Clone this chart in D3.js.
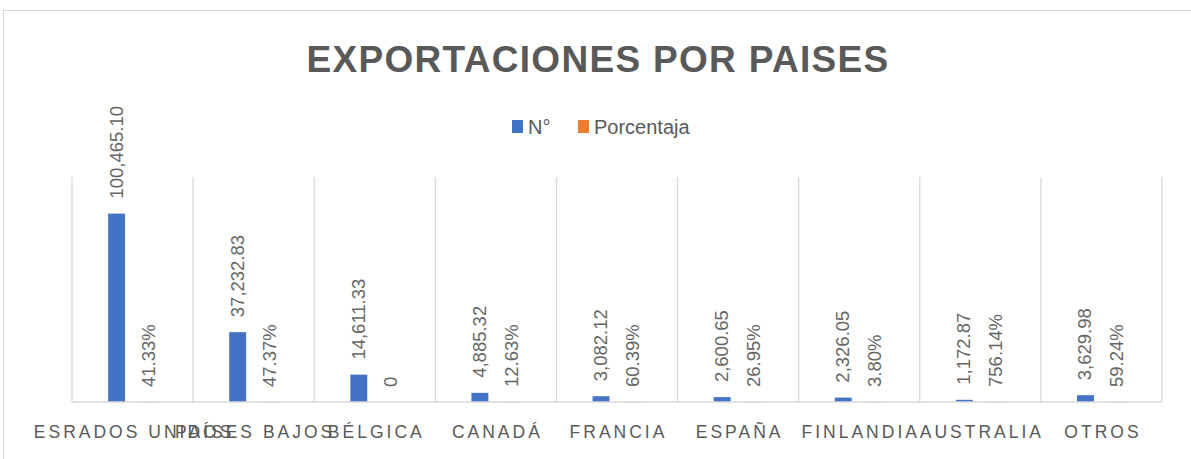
<!DOCTYPE html>
<html>
<head>
<meta charset="utf-8">
<script src="https://cdn.jsdelivr.net/npm/d3@7/dist/d3.min.js"></script>
<style>
body {
  margin: 0;
  background-color: white;
}
text {
  font-family: "Liberation Sans", sans-serif;
  fill: #595959;
}
</style>
</head>
<body>
<script>
const categories = ["ESRADOS UNIDOS", "PAÍSES BAJOS", "BÉLGICA", "CANADÁ", "FRANCIA",
                    "ESPAÑA", "FINLANDIA", "AUSTRALIA", "OTROS"];
const numero = [100465.10, 37232.83, 14611.33, 4885.32, 3082.12, 2600.65, 2326.05, 1172.87, 3629.98];
const porcentaja = [0.4133, 0.4737, 0, 0.1263, 0.6039, 0.2695, 0.0380, 7.5614, 0.5924];
const seriesNames = ["N°", "Porcentaja"];
const colors = ["#4472c4", "#ed7d31"];
const yMax = 120000;

const W = 1191, H = 459;
const svg = d3.select("body").append("svg")
  .attr("width", W)
  .attr("height", H);

// chart area border
svg.append("rect")
  .attr("x", 3.5).attr("y", 10.5)
  .attr("width", W + 10).attr("height", H + 10)
  .attr("fill", "white")
  .attr("stroke", "#d9d9d9");

const margin = {top: 177, right: 29, bottom: 57, left: 72};
const width = W - margin.left - margin.right;
const height = H - margin.top - margin.bottom;
const g = svg.append("g")
  .attr("transform", `translate(${margin.left}, ${margin.top})`);

const x = d3.scaleBand().domain(categories).range([0, width]).padding(0);
const xs = d3.scaleBand().domain(seriesNames).range([0, x.bandwidth()])
  .paddingInner(0.47).paddingOuter(1.13);
const y = d3.scaleLinear().domain([0, yMax]).range([height, 0]);

// vertical gridlines at category boundaries
const bounds = categories.map(c => x(c)).concat([width]);
g.selectAll(".grid")
  .data(bounds)
  .join("line")
  .attr("x1", d => d).attr("x2", d => d)
  .attr("y1", 0).attr("y2", height)
  .attr("stroke", "#d9d9d9")
  .attr("stroke-width", 1.3);

const rows = categories.map((c, i) => ({cat: c, vals: [numero[i], porcentaja[i]]}));

const fmtN = d3.format(",.2f");
const fmtP = v => v === 0 ? "0" : d3.format(".2%")(v);

const grp = g.selectAll(".cat")
  .data(rows)
  .join("g")
  .attr("transform", d => `translate(${x(d.cat)}, 0)`);

grp.selectAll("rect")
  .data(d => d.vals.map((v, k) => ({s: seriesNames[k], v, k})))
  .join("rect")
  .attr("x", d => xs(d.s))
  .attr("width", xs.bandwidth())
  .attr("y", d => y(d.v))
  .attr("height", d => Math.max(height - y(d.v), d.v > 0 ? 0.4 : 0))
  .attr("fill", d => colors[d.k]);

grp.selectAll(".lbl")
  .data(d => d.vals.map((v, k) => ({s: seriesNames[k], v, k})))
  .join("text")
  .attr("class", "lbl")
  .attr("transform", d => `translate(${xs(d.s) + xs.bandwidth() / 2 + 6}, ${y(d.v) - 15}) rotate(-90)`)
  .attr("font-size", 18.5)
  .style("fill", "#666")
  .text(d => d.k === 0 ? fmtN(d.v) : fmtP(d.v));

// baseline
g.append("line")
  .attr("x1", 0).attr("x2", width)
  .attr("y1", height).attr("y2", height)
  .attr("stroke", "#d9d9d9")
  .attr("stroke-width", 1.3);

// category axis
const xAxis = d3.axisBottom(x).tickSize(0).tickPadding(0);
const ax = g.append("g")
  .attr("transform", `translate(0, ${height})`)
  .call(xAxis);
ax.select(".domain").remove();
ax.selectAll("text")
  .attr("y", 36)
  .attr("dy", 0)
  .attr("dx", 1.5)
  .style("font-family", "Liberation Sans, sans-serif")
  .style("font-size", "17.5px")
  .style("letter-spacing", "3px")
  .style("fill", "#595959");

// title
svg.append("text")
  .attr("x", 598).attr("y", 72)
  .attr("text-anchor", "middle")
  .attr("font-size", 37)
  .attr("font-weight", "bold")
  .style("letter-spacing", "1.3px")
  .text("EXPORTACIONES POR PAISES");

// legend
const legend = svg.append("g").attr("transform", "translate(512, 120)");
const legX = [0, 66];
seriesNames.forEach((s, i) => {
  legend.append("rect")
    .attr("x", legX[i]).attr("y", 0)
    .attr("width", 11).attr("height", 13)
    .attr("fill", colors[i]);
  legend.append("text")
    .attr("x", legX[i] + 16).attr("y", 14)
    .attr("font-size", 20)
    .text(s);
});
</script>
</body>
</html>
